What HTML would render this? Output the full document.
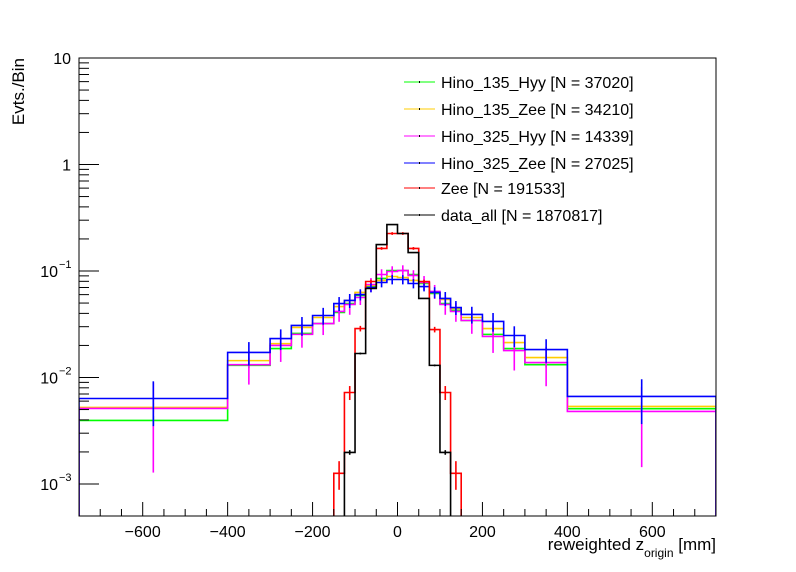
<!DOCTYPE html>
<html><head><meta charset="utf-8">
<style>
html,body{margin:0;padding:0;background:#fff;width:796px;height:572px;overflow:hidden;}
svg{display:block;font-family:"Liberation Sans",Arial,sans-serif;overflow:hidden;}
</style></head>
<body>
<svg id="chart" width="796" height="572" viewBox="0 0 796 572" xmlns="http://www.w3.org/2000/svg">
  <rect x="0" y="0" width="796" height="572" fill="#fff"/>
  <defs><clipPath id="frameclip"><rect x="79" y="58" width="637" height="458"/></clipPath></defs>
  <g id="plot" clip-path="url(#frameclip)"></g>
  <rect x="79" y="58" width="637" height="458" fill="none" stroke="#000" stroke-width="1"/>
  <g id="axes"></g>
  <text x="716" y="550" text-anchor="end" font-size="17">reweighted z<tspan font-size="12" dy="7">origin</tspan><tspan dy="-7"> [mm]</tspan></text>
  <text transform="translate(24,58) rotate(-90)" text-anchor="end" font-size="17">Evts./Bin</text>
  <g id="legend"></g>
</svg>
<script>
const edges = [-750,-400,-300,-250,-200,-150,-125,-100,-75,-50,-25,0,25,50,75,100,125,150,200,250,300,400,750];
const green   = [0.00395,0.0130,0.0187,0.0259,0.0321,0.0408,0.0495,0.0589,0.0715,0.0851,0.101,0.101,0.0927,0.0763,0.0615,0.0495,0.0426,0.0343,0.0254,0.0187,0.0132,0.0051];
const yellow  = [0.00523,0.0144,0.0208,0.0295,0.0366,0.0464,0.0529,0.0629,0.0731,0.0815,0.0888,0.0869,0.0815,0.0780,0.0629,0.0540,0.0444,0.0366,0.0288,0.0213,0.0154,0.00535];
const magenta = [0.00512,0.0132,0.0200,0.0254,0.0321,0.0417,0.0485,0.0564,0.0747,0.0927,0.0989,0.101,0.0908,0.0780,0.0643,0.0485,0.0417,0.0343,0.0243,0.0179,0.0138,0.0048];
const blue    = [0.00635,0.0172,0.0232,0.0308,0.0382,0.0495,0.0529,0.0601,0.0700,0.0780,0.0832,0.0832,0.0763,0.0715,0.0629,0.0552,0.0454,0.0391,0.0336,0.0248,0.0183,0.00664];
const red     = [0,0,0,0,0,0.00126,0.00723,0.0288,0.0797,0.163,0.225,0.225,0.163,0.0797,0.0282,0.00723,0.00126,0,0,0,0,0];
const black   = [0,0,0,0,0,0,0.00198,0.0168,0.0685,0.177,0.273,0.225,0.149,0.0552,0.0130,0.00198,0,0,0,0,0,0];
const errMagenta = [0.75,0.35,0.3,0.25,0.22,0.2,0.2,0.15,0.15,0.12,0.12,0.12,0.12,0.15,0.15,0.2,0.2,0.25,0.3,0.35,0.4,0.7];
const errBlue    = [0.45,0.25,0.22,0.2,0.18,0.15,0.15,0.12,0.1,0.1,0.1,0.1,0.1,0.1,0.12,0.15,0.15,0.18,0.2,0.22,0.25,0.45];
const errGreen   = [0.1,0.06,0.05,0.05,0.05,0.04,0.04,0.04,0.03,0.03,0.03,0.03,0.03,0.03,0.04,0.04,0.04,0.05,0.05,0.05,0.06,0.1];
const errYellow  = [0.1,0.06,0.05,0.05,0.05,0.04,0.04,0.04,0.03,0.03,0.03,0.03,0.03,0.03,0.04,0.04,0.04,0.05,0.05,0.05,0.06,0.1];
const errRed     = [0,0,0,0,0,0.3,0.15,0.06,0.04,0.03,0.03,0.03,0.03,0.04,0.06,0.15,0.3,0,0,0,0,0];
const errBlack   = [0,0,0,0,0,0,0.05,0.02,0.01,0.01,0.01,0.01,0.01,0.01,0.02,0.05,0,0,0,0,0,0];
const xTicks = [-600,-400,-200,0,200,400,600];
const xTickLabels = ["\u2212600","\u2212400","\u2212200","0","200","400","600"];
const yDecades = [-3,-2,-1,0,1];
const legendLabels = ["Hino_135_Hyy [N = 37020]","Hino_135_Zee [N = 34210]","Hino_325_Hyy [N = 14339]","Hino_325_Zee [N = 27025]","Zee [N = 191533]","data_all [N = 1870817]"];

const NS="http://www.w3.org/2000/svg";
const X0=79,X1=716,Y0=58,Y1=516;
const xMin=-750,xMax=750, yTopLog=1, pxPerDec=106.5;
function sx(v){return X0+(v-xMin)/(xMax-xMin)*(X1-X0);}
function sy(v){ if(v<=0) return Y1+20; return Math.min(Y1+20, Y0+(yTopLog-Math.log10(v))*pxPerDec); }
function mk(tag,attrs,parent){const e=document.createElementNS(NS,tag);for(const k in attrs)e.setAttribute(k,attrs[k]);parent.appendChild(e);return e;}

const plot=document.getElementById('plot');
const axes=document.getElementById('axes');
const legend=document.getElementById('legend');

const series=[
 {name:'hino-135-hyy',vals:green,err:errGreen,color:'#00ff00'},
 {name:'hino-135-zee',vals:yellow,err:errYellow,color:'#ffcc00'},
 {name:'hino-325-hyy',vals:magenta,err:errMagenta,color:'#ff00ff'},
 {name:'hino-325-zee',vals:blue,err:errBlue,color:'#0000ff'},
 {name:'zee',vals:red,err:errRed,color:'#ff0000'},
 {name:'data-all',vals:black,err:errBlack,color:'#000000'}
];

series.forEach(s=>{
  const g=mk('g',{},plot);
  
  
  let d='M'+sx(edges[0])+','+(Y1+20);
  for(let i=0;i<s.vals.length;i++){
    const y=sy(s.vals[i]);
    d+=' L'+sx(edges[i])+','+y+' L'+sx(edges[i+1])+','+y;
  }
  d+=' L'+sx(edges[edges.length-1])+','+(Y1+20);
  const p=mk('path',{d:d,fill:'none',stroke:s.color,'stroke-width':1.6},g);
  
  
  for(let i=0;i<s.vals.length;i++){
    const v=s.vals[i]; if(v<=0) continue;
    const cx=(sx(edges[i])+sx(edges[i+1]))/2;
    const e=v*s.err[i];
    const lo=v-e>0?sy(v-e):Y1+20, hi=sy(v+e);
    const eb=mk('line',{x1:cx,x2:cx,y1:lo,y2:hi,stroke:s.color,'stroke-width':1.6},g);
    
    
  }
});

for(let v=-750;v<=750;v+=50){
  const isMaj=xTicks.indexOf(v)>=0;
  const x=sx(v);
  const t=mk('line',{x1:x,x2:x,y1:Y1,y2:Y1-(isMaj?14:7),stroke:'#000','stroke-width':1},axes);
  
  
}
xTicks.forEach((v,i)=>{
  const t=mk('text',{x:sx(v),y:537,'text-anchor':'middle','font-size':16},axes);
  t.textContent=xTickLabels[i];
  
  
});
yDecades.forEach(dec=>{
  for(let k=1;k<=9;k++){
    const v=k*Math.pow(10,dec);
    const y=Y0+(yTopLog-Math.log10(v))*pxPerDec;
    if(y<Y0-0.5||y>Y1+0.5) continue;
    const t=mk('line',{x1:X0,x2:X0+(k===1?20:10),y1:y,y2:y,stroke:'#000','stroke-width':1},axes);
    
    
  }
  const y=Y0+(yTopLog-dec)*pxPerDec;
  const t=mk('text',{x:71,y:y+6,'text-anchor':'end','font-size':16},axes);
  
  
  if(dec===0) t.textContent='1';
  else if(dec===1) t.textContent='10';
  else {
    t.setAttribute('x',58);
    t.textContent='10';
    const s2=mk('text',{x:59,y:y-3,'text-anchor':'start','font-size':11},axes);
    s2.textContent='\u2212'+(-dec);
    
    
  }
});
const legY=[82,109,136,163,188,215];
series.forEach((s,i)=>{
  const g=mk('g',{},legend);
  
  
  mk('line',{x1:404,x2:435,y1:legY[i],y2:legY[i],stroke:s.color,'stroke-width':1},g);
  mk('line',{x1:419.5,x2:419.5,y1:legY[i]-1,y2:legY[i]+1,stroke:'#000','stroke-width':1},g);
  const t=mk('text',{x:441,y:legY[i]+6,'font-size':16},g);
  t.textContent=legendLabels[i];
});
</script>
</body></html>
